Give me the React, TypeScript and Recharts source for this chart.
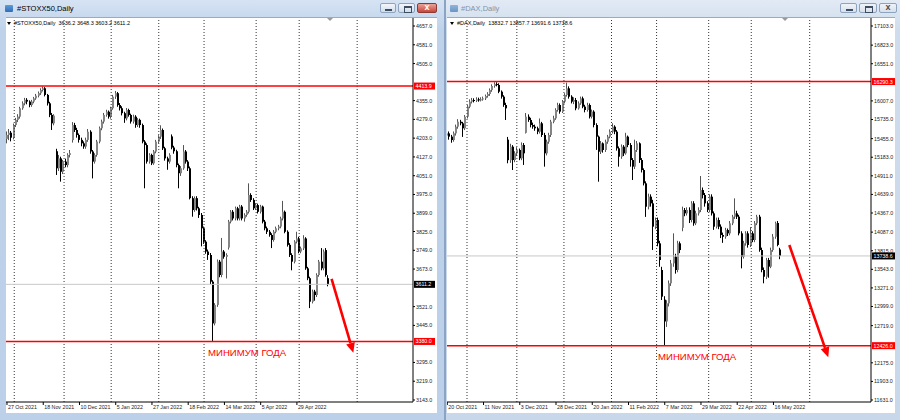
import React from "react";
import { ComposedChart, Bar, XAxis, YAxis, ReferenceLine } from "recharts";

// #STOXX50 daily, 27 Oct 2021 .. 20 May 2022
const stoxxOpen = [
  4200, 4216, 4225, 4205, 4256, 4277, 4290, 4324, 4344, 4358,
  4351, 4337, 4351, 4364, 4375, 4385, 4398, 4405, 4378, 4344,
  4297, 4263, 4150, 4081, 4121, 4067, 4108, 4094, 4135, 4195,
  4256, 4236, 4216, 4196, 4182, 4169, 4196, 4229, 4149, 4108,
  4135, 4189, 4243, 4270, 4297, 4310, 4290, 4324, 4371, 4385,
  4337, 4324, 4304, 4283, 4317, 4297, 4270, 4290, 4256, 4277,
  4256, 4189, 4175, 4108, 4135, 4101, 4149, 4189, 4209, 4236,
  4162, 4121, 4108, 4210, 4165, 4150, 4094, 4061, 4081, 4149,
  4108, 4081, 3960, 3912, 3960, 3919, 3892, 3838, 3784, 3744,
  3730, 3622, 3453, 3528, 3703, 3649, 3744, 3723, 3760, 3865,
  3905, 3878, 3919, 3878, 3926, 3878, 3892, 3905, 3973, 3953,
  3919, 3932, 3905, 3926, 3865, 3838, 3824, 3811, 3791, 3824,
  3838, 3845, 3878, 3905, 3824, 3771, 3730, 3703, 3784, 3797,
  3744, 3757, 3797, 3676, 3636, 3541, 3582, 3568, 3649, 3703,
  3676, 3750, 3636.2,
];
const stoxxHigh = [
  4230, 4240, 4232, 4262, 4285, 4300, 4330, 4352, 4366, 4365,
  4356, 4358, 4370, 4382, 4392, 4405, 4412, 4410, 4382, 4350,
  4305, 4300, 4160, 4135, 4128, 4115, 4120, 4142, 4155, 4268,
  4265, 4245, 4222, 4205, 4190, 4205, 4240, 4235, 4155, 4142,
  4196, 4250, 4278, 4305, 4318, 4315, 4330, 4378, 4394, 4390,
  4345, 4332, 4310, 4325, 4322, 4302, 4298, 4296, 4284, 4282,
  4262, 4195, 4182, 4142, 4140, 4155, 4196, 4215, 4255, 4242,
  4168, 4128, 4142, 4218, 4172, 4156, 4100, 4090, 4175, 4155,
  4114, 4088, 3968, 3967, 3968, 3925, 3900, 3845, 3790, 3752,
  3738, 3628, 3535, 3712, 3710, 3799, 3750, 3737, 3872, 3912,
  3912, 3926, 3925, 3933, 3932, 3899, 3912, 4020, 3980, 3960,
  3940, 3938, 3933, 3930, 3872, 3845, 3831, 3818, 3831, 3845,
  3852, 3885, 3949, 3910, 3830, 3778, 3737, 3790, 3824, 3803,
  3764, 3810, 3802, 3682, 3642, 3590, 3589, 3656, 3710, 3758,
  3752, 3758, 3648.3,
];
const stoxxLow = [
  4182, 4195, 4190, 4198, 4248, 4268, 4282, 4318, 4336, 4340,
  4328, 4330, 4344, 4358, 4368, 4378, 4392, 4372, 4335, 4288,
  4236, 4255, 4054, 4070, 4027, 4058, 4085, 4085, 4125, 4185,
  4228, 4205, 4185, 4170, 4160, 4160, 4188, 4140, 4040, 4100,
  4128, 4182, 4235, 4262, 4290, 4282, 4282, 4318, 4362, 4330,
  4315, 4295, 4265, 4275, 4290, 4262, 4262, 4245, 4248, 4245,
  4182, 4000, 4100, 4100, 4094, 4095, 4142, 4182, 4200, 4155,
  4112, 4075, 4100, 4158, 4140, 4085, 4000, 4050, 4075, 4100,
  4070, 3955, 3885, 3905, 3910, 3880, 3765, 3775, 3735, 3710,
  3612, 3382, 3445, 3520, 3640, 3640, 3715, 3635, 3752, 3858,
  3870, 3870, 3870, 3870, 3870, 3865, 3885, 3898, 3945, 3912,
  3912, 3898, 3898, 3858, 3830, 3815, 3804, 3758, 3784, 3818,
  3830, 3838, 3870, 3818, 3764, 3722, 3668, 3696, 3777, 3737,
  3737, 3750, 3670, 3628, 3515, 3534, 3545, 3560, 3642, 3668,
  3668, 3642, 3603.2,
];
const stoxxClose = [
  4216, 4225, 4205, 4256, 4277, 4290, 4324, 4344, 4358, 4351,
  4337, 4351, 4364, 4375, 4385, 4398, 4405, 4378, 4344, 4297,
  4263, 4294, 4081, 4121, 4067, 4108, 4094, 4135, 4142, 4256,
  4236, 4216, 4196, 4182, 4169, 4196, 4229, 4149, 4108, 4135,
  4189, 4243, 4270, 4297, 4310, 4290, 4324, 4371, 4385, 4337,
  4324, 4304, 4283, 4317, 4297, 4270, 4290, 4256, 4277, 4256,
  4189, 4175, 4108, 4135, 4101, 4149, 4189, 4209, 4236, 4162,
  4121, 4108, 4135, 4165, 4150, 4094, 4061, 4081, 4149, 4108,
  4081, 3960, 3912, 3960, 3919, 3892, 3838, 3784, 3744, 3730,
  3622, 3453, 3528, 3703, 3649, 3744, 3723, 3730, 3865, 3905,
  3878, 3919, 3878, 3926, 3878, 3892, 3905, 3973, 3953, 3919,
  3932, 3905, 3926, 3865, 3838, 3824, 3811, 3791, 3824, 3838,
  3845, 3878, 3905, 3824, 3771, 3730, 3703, 3784, 3797, 3744,
  3757, 3797, 3676, 3636, 3541, 3582, 3568, 3649, 3703, 3676,
  3744, 3649, 3611.2,
];
// labels of the price scale that are not covered by the level tags
const stoxxPriceTicks = [
  4657, 4581, 4505, 4355, 4279, 4203, 4127, 4051, 3975, 3899,
  3825, 3749, 3673, 3521, 3445, 3295, 3219, 3143,
];
const stoxxDateIdx = [0, 16, 32, 48, 64, 80, 96, 112, 128];
const stoxxDateLabels = [
  "27 Oct 2021", "18 Nov 2021", "10 Dec 2021", "5 Jan 2022", "27 Jan 2022",
  "18 Feb 2022", "14 Mar 2022", "5 Apr 2022", "29 Apr 2022",
];
const stoxxMonthGrid = [3.2, 25.2, 46, 67, 87, 110, 129, 154.6];
const stoxxYearHigh = 4413.9;
const stoxxYearLow = 3380.0;
const stoxxLast = 3611.2;
const stoxxArrow = [{ x: 143.3, y: 3633 }, { x: 152.9, y: 3334 }];

// #DAX daily, 20 Oct 2021 .. 20 May 2022
const daxOpen = [
  15500, 15532, 15484, 15435, 15532, 15630, 15703, 15679, 15606, 15776,
  15923, 15996, 16020, 16010, 16030, 16020, 16030, 16044, 16079, 16108,
  16166, 16225, 16254, 16240, 16142, 16069, 15947, 15440, 15140, 15337,
  15142, 15240, 15289, 15167, 15362, 15540, 15776, 15728, 15654, 15630,
  15606, 15557, 15679, 15508, 15240, 15410, 15508, 15703, 15752, 15874,
  15947, 15850, 15996, 16093, 16191, 16069, 15996, 16020, 15898, 15971,
  16044, 15923, 15874, 15947, 15776, 15850, 15654, 15484, 15264, 15386,
  15289, 15410, 15484, 15557, 15630, 15557, 15313, 15191, 15337, 15240,
  15484, 15362, 15142, 15045, 15289, 15386, 15142, 14996, 14801, 14459,
  14606, 14508, 14167, 14264, 13923, 13533, 13100, 12780, 13045, 13338,
  13630, 13728, 13533, 13923, 14150, 14411, 14362, 14411, 14264, 14508,
  14216, 14362, 14411, 14703, 14630, 14508, 14411, 14606, 14362, 14167,
  14264, 14167, 14045, 14020, 14118, 14069, 14216, 14313, 14362, 14313,
  14069, 13728, 13923, 14069, 13899, 14069, 13972, 14216, 14313, 13825,
  13533, 13435, 13679, 13582, 13825, 14020, 14221, 13832.7,
];
const daxHigh = [
  15580, 15560, 15510, 15560, 15660, 15740, 15730, 15700, 15800, 15950,
  16030, 16050, 16045, 16060, 16055, 16060, 16070, 16100, 16135, 16190,
  16250, 16280, 16280, 16265, 16160, 16090, 15980, 15480, 15380, 15360,
  15270, 15330, 15310, 15400, 15390, 15830, 15810, 15760, 15690, 15660,
  15630, 15750, 15700, 15540, 15440, 15540, 15730, 15790, 15900, 15980,
  15970, 16020, 16120, 16274, 16220, 16090, 16060, 16050, 16000, 16070,
  16070, 15950, 15980, 15970, 15880, 15870, 15680, 15500, 15420, 15400,
  15440, 15510, 15590, 15680, 15650, 15580, 15340, 15370, 15360, 15540,
  15500, 15390, 15170, 15440, 15420, 15400, 15170, 15020, 14830, 14650,
  14640, 14560, 14300, 14300, 13960, 13580, 13150, 13090, 13380, 13680,
  14069, 13770, 13960, 13950, 14460, 14440, 14450, 14450, 14540, 14540,
  14400, 14450, 14908, 14740, 14660, 14540, 14640, 14640, 14390, 14300,
  14300, 14200, 14080, 14150, 14140, 14250, 14340, 14581, 14400, 14340,
  14100, 13960, 14100, 14100, 14160, 14100, 14250, 14340, 14340, 13860,
  13570, 13710, 13710, 13860, 14060, 14240, 14250, 13857.7,
];
const daxLow = [
  15450, 15440, 15395, 15410, 15500, 15600, 15650, 15480, 15580, 15750,
  15900, 15970, 15985, 15990, 15995, 16000, 16010, 16020, 16055, 16080,
  16140, 16200, 16220, 16120, 16040, 15920, 15728, 15094, 15100, 14996,
  15110, 15200, 15140, 15140, 15070, 15530, 15700, 15620, 15600, 15570,
  15520, 15530, 15480, 15045, 15210, 15380, 15480, 15680, 15730, 15850,
  15820, 15830, 15970, 16070, 16040, 15970, 15960, 15870, 15880, 15950,
  15900, 15840, 15850, 15750, 15750, 15620, 15290, 14825, 15230, 15250,
  15260, 15380, 15460, 15530, 15520, 15280, 15045, 15160, 15200, 15220,
  15330, 15045, 14850, 15010, 15260, 15100, 14960, 14770, 14310, 14420,
  14460, 13826, 14130, 13880, 13580, 13094, 12435, 12700, 13000, 13300,
  13580, 13480, 13500, 13780, 14100, 14320, 14330, 14220, 14230, 14180,
  14190, 14330, 14380, 14580, 14460, 14380, 14380, 14330, 14120, 14140,
  14130, 14000, 13930, 13990, 14030, 14040, 14190, 14280, 14280, 14040,
  13557, 13700, 13890, 13860, 13870, 13940, 13940, 14190, 13800, 13500,
  13338, 13400, 13420, 13560, 13800, 13990, 13880, 13691.6,
];
const daxClose = [
  15532, 15484, 15435, 15532, 15630, 15703, 15679, 15606, 15776, 15923,
  15996, 16020, 16010, 16030, 16020, 16030, 16044, 16079, 16108, 16166,
  16225, 16254, 16240, 16142, 16069, 15947, 15898, 15140, 15337, 15142,
  15240, 15289, 15167, 15362, 15240, 15776, 15728, 15654, 15630, 15606,
  15557, 15679, 15508, 15240, 15410, 15508, 15703, 15752, 15874, 15947,
  15850, 15996, 16093, 16191, 16069, 15996, 16020, 15898, 15971, 16044,
  15923, 15874, 15947, 15776, 15850, 15654, 15484, 15264, 15386, 15289,
  15410, 15484, 15557, 15630, 15557, 15313, 15191, 15337, 15240, 15484,
  15362, 15142, 15045, 15289, 15386, 15142, 14996, 14801, 14459, 14606,
  14508, 14167, 14264, 13923, 13679, 13143, 12780, 13045, 13338, 13630,
  13728, 13533, 13923, 13825, 14411, 14362, 14411, 14264, 14508, 14216,
  14362, 14411, 14703, 14630, 14508, 14411, 14606, 14362, 14167, 14264,
  14167, 14045, 14020, 14118, 14069, 14216, 14313, 14362, 14313, 14069,
  13728, 13923, 14069, 13899, 14069, 13972, 14216, 14313, 13825, 13533,
  13435, 13679, 13582, 13825, 14020, 14216, 13900, 13738.6,
];
const daxPriceTicks = [
  17103, 16823, 16551, 16007, 15735, 15455, 15183, 14911, 14639, 14367,
  14087, 13815, 13543, 13271, 12999, 12719, 12175, 11903, 11631,
];
const daxDateIdx = [0, 16, 32, 48, 64, 80, 96, 112, 128, 144];
const daxDateLabels = [
  "20 Oct 2021", "11 Nov 2021", "3 Dec 2021", "28 Dec 2021", "20 Jan 2022",
  "11 Feb 2022", "7 Mar 2022", "29 Mar 2022", "22 Apr 2022", "16 May 2022",
];
const daxMonthGrid = [8.7, 30.7, 51.5, 72.5, 92.4, 115.4, 134.2, 160];
const daxYearHigh = 16290.3;
const daxYearLow = 12426.0;
const daxLast = 13738.6;
const daxArrow = [{ x: 151, y: 13899 }, { x: 168.2, y: 12256 }];

const FONT = "'Liberation Sans', Arial, sans-serif";

type Row = { i: number; open: number; high: number; low: number; close: number };

function toRows(o: number[], h: number[], l: number[], c: number[]): Row[] {
  return c.map((close, i) => ({ i, open: o[i], high: h[i], low: l[i], close }));
}

function Candle(props: any) {
  const { x, y, width, height, payload } = props;
  if (!payload || x == null || y == null) return null;
  const top = Math.min(y, y + height);
  const bottom = Math.max(y, y + height);
  const k = (bottom - top) / (payload.high - payload.low || 1);
  const yo = top + (payload.high - payload.open) * k;
  const yc = top + (payload.high - payload.close) * k;
  const cx = Math.round(x + width / 2);
  const up = payload.close >= payload.open;
  const bt = Math.min(yo, yc);
  const bh = Math.max(1, Math.abs(yc - yo));
  return (
    <g>
      <line x1={cx - 0.5} x2={cx - 0.5} y1={top} y2={bottom} stroke={up ? "#555" : "#000"} strokeWidth={1} />
      <rect x={cx - 1} y={bt} width={2} height={bh} fill={up ? "#858585" : "#000"} />
    </g>
  );
}

function Arrow(props: any) {
  const { x1, y1, x2, y2 } = props;
  const a = Math.atan2(y2 - y1, x2 - x1);
  const len = 10;
  const half = 4.5;
  const bx = x2 - len * Math.cos(a);
  const by = y2 - len * Math.sin(a);
  const nx = -Math.sin(a) * half;
  const ny = Math.cos(a) * half;
  return (
    <g>
      <line x1={x1} y1={y1} x2={bx} y2={by} stroke="#ff0000" strokeWidth={2.6} />
      <polygon points={`${x2},${y2} ${bx + nx},${by + ny} ${bx - nx},${by - ny}`} fill="#ff0000" />
    </g>
  );
}

const tag = (text: string, bg: string, w: number) => (p: any) => {
  const vb = p.viewBox || {};
  const x = (vb.x || 0) + (vb.width || 0);
  const y = vb.y || 0;
  return (
    <g>
      <rect x={x + 1} y={y - 3.5} width={w} height={7} fill={bg} />
      <text x={x + 2.5} y={y + 2} fontSize={5.3} fill="#fff" fontFamily={FONT}>
        {text}
      </text>
    </g>
  );
};

type PanelProps = {
  rows: Row[];
  width: number;
  marginLeft: number;
  xDomain: [number, number];
  yDomain: [number, number];
  priceTicks: number[];
  dateIdx: number[];
  dateLabels: string[];
  grid: number[];
  yearHigh: number;
  yearLow: number;
  last: number;
  arrow: { x: number; y: number }[];
  tagW: number;
};

function Panel(p: PanelProps) {
  return (
    <ComposedChart
      width={p.width}
      height={413}
      data={p.rows}
      margin={{ top: 18, right: 0, bottom: 0, left: p.marginLeft }}
    >
      <XAxis
        type="number"
        dataKey="i"
        domain={p.xDomain}
        allowDataOverflow
        ticks={p.dateIdx}
        interval={0}
        height={11}
        tickSize={3}
        tickMargin={0}
        axisLine={{ stroke: "#000" }}
        tickLine={{ stroke: "#000" }}
        tick={(t: any) => (
          <text x={t.x + 1} y={t.y + 4} fontSize={5.3} fill="#222" fontFamily={FONT} textAnchor="start">
            {p.dateLabels[p.dateIdx.indexOf(t.payload.value)]}
          </text>
        )}
      />
      <YAxis
        orientation="right"
        type="number"
        domain={p.yDomain}
        allowDataOverflow
        ticks={p.priceTicks}
        interval={0}
        width={24}
        tickSize={2}
        tickMargin={1}
        axisLine={{ stroke: "#000" }}
        tickLine={{ stroke: "#000" }}
        tick={(t: any) => (
          <text x={t.x} y={t.y + 2} fontSize={5.3} fill="#222" fontFamily={FONT} textAnchor="start">
            {Number(t.payload.value).toFixed(1)}
          </text>
        )}
      />
      {p.grid.map((g) => (
        <ReferenceLine key={g} x={g} stroke="#333" strokeDasharray="1 2" />
      ))}
      <ReferenceLine y={p.last} stroke="#c8c8c8" label={tag(p.last.toFixed(1), "#000", p.tagW)} />
      <Bar
        dataKey={(d: Row) => [d.low, d.high]}
        barSize={2}
        shape={<Candle />}
        isAnimationActive={false}
      />
      <ReferenceLine y={p.yearHigh} stroke="#ff0000" strokeWidth={1.5} label={tag(p.yearHigh.toFixed(1), "#ff0000", p.tagW)} />
      <ReferenceLine y={p.yearLow} stroke="#ff0000" strokeWidth={1.5} label={tag(p.yearLow.toFixed(1), "#ff0000", p.tagW)} />
      <ReferenceLine segment={p.arrow} shape={Arrow} />
    </ComposedChart>
  );
}

function Btn({ left, w, red, dim, kind }: { left: number; w: number; red?: boolean; dim?: boolean; kind: string }) {
  return (
    <div
      style={{
        position: "absolute",
        left,
        top: 3,
        width: w,
        height: 10,
        borderRadius: 2,
        border: `1px solid ${red ? "#8d3a33" : "#8ea3bd"}`,
        background: red
          ? "linear-gradient(#e8a49a, #c9453a)"
          : dim
          ? "linear-gradient(#f0f4f9, #d6e0ec)"
          : "linear-gradient(#f4f7fb, #cfdcec)",
        boxSizing: "border-box",
      }}
    >
      {kind === "min" && (
        <div style={{ position: "absolute", left: w / 2 - 4, top: 5, width: 7, height: 2, background: "#3f4d60" }} />
      )}
      {kind === "max" && (
        <div style={{ position: "absolute", left: w / 2 - 4, top: 2, width: 6, height: 4, border: "1px solid #3f4d60", borderTopWidth: 2 }} />
      )}
      {kind === "close" && (
        <div style={{ position: "absolute", left: 0, top: -2, width: "100%", textAlign: "center", fontSize: 9, fontWeight: "bold", color: red ? "#fff" : "#3f4d60", fontFamily: FONT }}>
          x
        </div>
      )}
    </div>
  );
}

function Header({ left, text }: { left: number; text: string }) {
  return (
    <div style={{ position: "absolute", left, top: 20, fontSize: 5.5, color: "#000", fontFamily: FONT, whiteSpace: "pre", lineHeight: "7px" }}>
      <span style={{ display: "inline-block", width: 0, height: 0, borderLeft: "2.5px solid transparent", borderRight: "2.5px solid transparent", borderTop: "3px solid #000", marginRight: 3, verticalAlign: "middle" }} />
      {text}
    </div>
  );
}

function ShiftMark({ left }: { left: number }) {
  return (
    <div style={{ position: "absolute", left, top: 18, width: 0, height: 0, borderLeft: "3px solid transparent", borderRight: "3px solid transparent", borderTop: "3px solid #9a9a9a" }} />
  );
}

export default function App() {
  const stoxxRows = toRows(stoxxOpen, stoxxHigh, stoxxLow, stoxxClose);
  const daxRows = toRows(daxOpen, daxHigh, daxLow, daxClose);
  const pxPerBar = 2.265;
  return (
    <div style={{ position: "relative", width: 900, height: 420, overflow: "hidden", background: "#b7cce6", fontFamily: FONT }}>
      <style>{"body{margin:0}"}</style>

      {/* left window */}
      <div style={{ position: "absolute", left: 0, top: 0, width: 445, height: 420, background: "linear-gradient(#d6e3f3, #bed2ea 30px, #bcd0e9)", borderRight: "1px solid #8ba4c3", boxSizing: "border-box" }} />
      <div style={{ position: "absolute", left: 5, top: 5, width: 8, height: 7, background: "linear-gradient(#5f9ad8, #2f6db5)", borderRadius: 1 }} />
      <div style={{ position: "absolute", left: 17, top: 4, fontSize: 7.5, color: "#000", fontFamily: FONT }}>#STOXX50,Daily</div>
      <Btn left={380} w={16} kind="min" />
      <Btn left={398} w={17} kind="max" />
      <Btn left={417} w={20} kind="close" red />
      <div style={{ position: "absolute", left: 6, top: 17, width: 431, height: 396, background: "#fff", borderTop: "1px solid #9aabc0", boxSizing: "border-box" }} />
      <div style={{ position: "absolute", left: 0, top: 0 }}>
        <Panel
          rows={stoxxRows}
          width={437}
          marginLeft={6}
          xDomain={[-0.44, -0.44 + 407 / pxPerBar]}
          yDomain={[3134.9, 4689.4]}
          priceTicks={stoxxPriceTicks}
          dateIdx={stoxxDateIdx}
          dateLabels={stoxxDateLabels}
          grid={stoxxMonthGrid}
          yearHigh={stoxxYearHigh}
          yearLow={stoxxYearLow}
          last={stoxxLast}
          arrow={stoxxArrow}
          tagW={21}
        />
      </div>
      <Header left={7} text="#STOXX50,Daily  3636.2 3648.3 3603.2 3611.2" />
      <ShiftMark left={327} />
      <div style={{ position: "absolute", left: 208, top: 348, fontSize: 9.6, color: "#ff0000", fontFamily: FONT, lineHeight: "10px", whiteSpace: "nowrap" }}>
        МИНИМУМ ГОДА
      </div>

      {/* right window */}
      <div style={{ position: "absolute", left: 445, top: 0, width: 455, height: 420, background: "linear-gradient(#e2eaf5, #cfdcec 30px, #c8d7ea)", borderLeft: "1px solid #8ba4c3", boxSizing: "border-box" }} />
      <div style={{ position: "absolute", left: 450, top: 5, width: 8, height: 7, background: "linear-gradient(#8fb4dc, #6d94c4)", borderRadius: 1 }} />
      <div style={{ position: "absolute", left: 461, top: 4, fontSize: 7.5, color: "#8493a6", fontFamily: FONT }}>#DAX,Daily</div>
      <Btn left={840} w={17} kind="min" dim />
      <Btn left={859} w={18} kind="max" dim />
      <Btn left={879} w={18} kind="close" dim />
      <div style={{ position: "absolute", left: 447, top: 17, width: 448, height: 396, background: "#fff", borderTop: "1px solid #9aabc0", boxSizing: "border-box" }} />
      <div style={{ position: "absolute", left: 447, top: 0 }}>
        <Panel
          rows={daxRows}
          width={448}
          marginLeft={0}
          xDomain={[-0.13, -0.13 + 424 / pxPerBar]}
          yDomain={[11601.7, 17220]}
          priceTicks={daxPriceTicks}
          dateIdx={daxDateIdx}
          dateLabels={daxDateLabels}
          grid={daxMonthGrid}
          yearHigh={daxYearHigh}
          yearLow={daxYearLow}
          last={daxLast}
          arrow={daxArrow}
          tagW={23}
        />
      </div>
      <Header left={450} text="#DAX,Daily  13832.7 13857.7 13691.6 13738.6" />
      <ShiftMark left={782} />
      <div style={{ position: "absolute", left: 658, top: 352, fontSize: 9.6, color: "#ff0000", fontFamily: FONT, lineHeight: "10px", whiteSpace: "nowrap" }}>
        МИНИМУМ ГОДА
      </div>
    </div>
  );
}
